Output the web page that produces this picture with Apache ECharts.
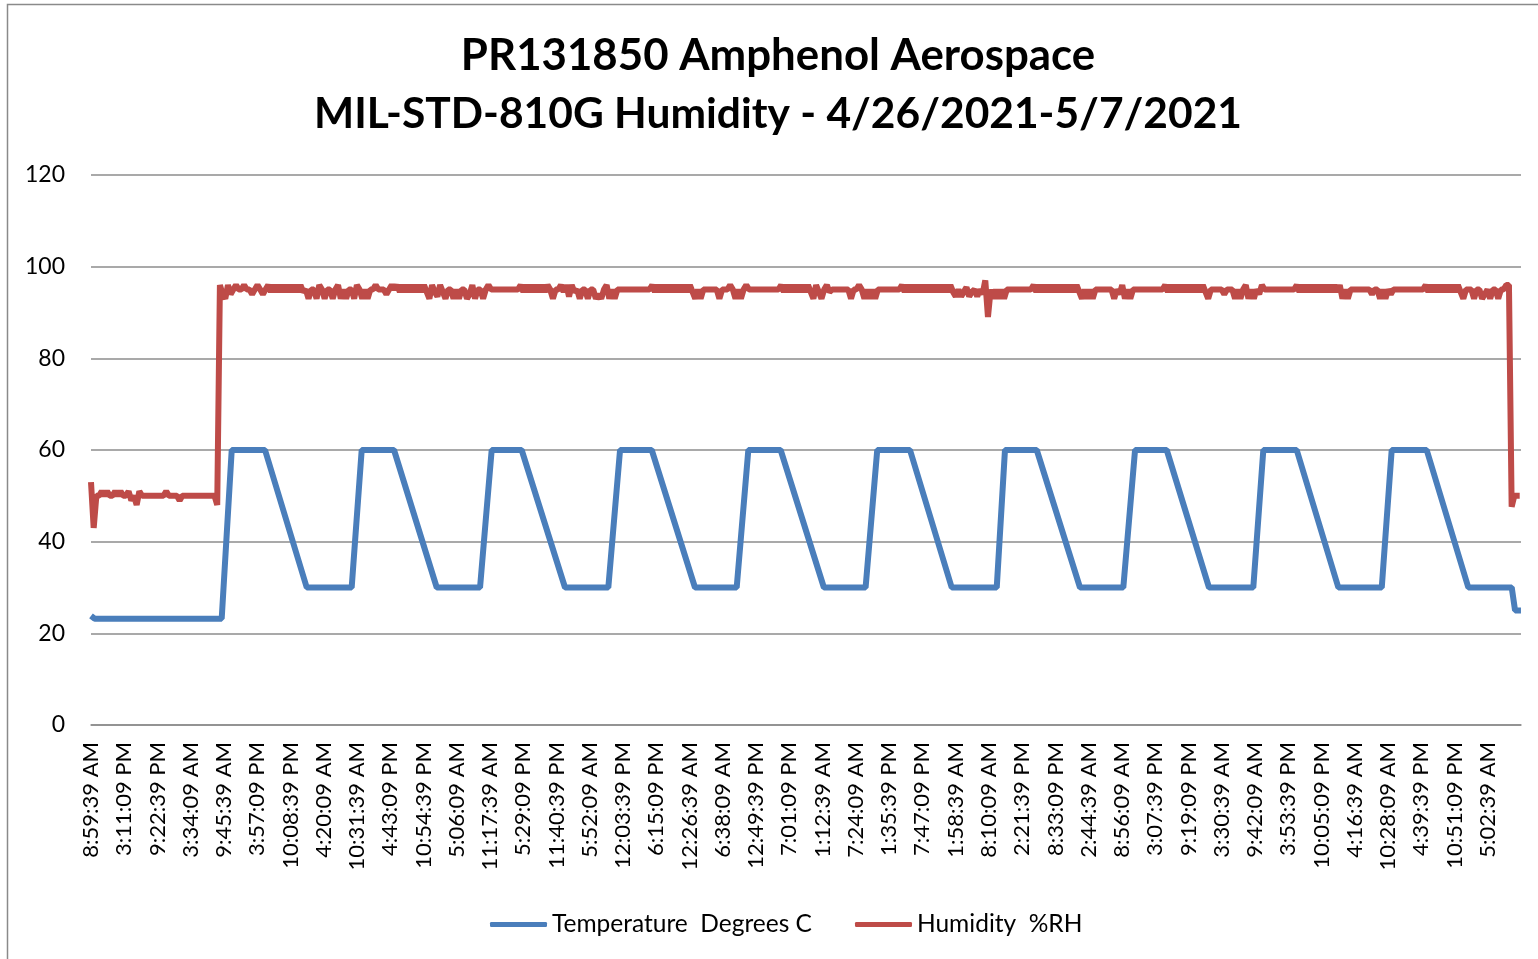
<!DOCTYPE html>
<html>
<head>
<meta charset="utf-8">
<script src="https://cdn.jsdelivr.net/npm/echarts@6/dist/echarts.min.js"></script>
<style>
  html, body { margin: 0; padding: 0; background: #ffffff; }
  #chart { width: 1538px; height: 959px; }
</style>
</head>
<body>
<div id="chart"></div>
<script>
// ---- data ----
const titleLines = ['PR131850 Amphenol Aerospace', 'MIL-STD-810G Humidity - 4/26/2021-5/7/2021'];
const seriesNames = ['Temperature  Degrees C', 'Humidity  %RH'];

// category tick labels, one every 6h11m30s (371.5 minutes)
const tickLabels = [
  '8:59:39 AM', '3:11:09 PM', '9:22:39 PM', '3:34:09 AM', '9:45:39 AM', '3:57:09 PM',
  '10:08:39 PM', '4:20:09 AM', '10:31:39 AM', '4:43:09 PM', '10:54:39 PM', '5:06:09 AM',
  '11:17:39 AM', '5:29:09 PM', '11:40:39 PM', '5:52:09 AM', '12:03:39 PM', '6:15:09 PM',
  '12:26:39 AM', '6:38:09 AM', '12:49:39 PM', '7:01:09 PM', '1:12:39 AM', '7:24:09 AM',
  '1:35:39 PM', '7:47:09 PM', '1:58:39 AM', '8:10:09 AM', '2:21:39 PM', '8:33:09 PM',
  '2:44:39 AM', '8:56:09 AM', '3:07:39 PM', '9:19:09 PM', '3:30:39 AM', '9:42:09 AM',
  '3:53:39 PM', '10:05:09 PM', '4:16:39 AM', '10:28:09 AM', '4:39:39 PM', '10:51:09 PM',
  '5:02:39 AM'
];
const labelStepMinutes = 371.5;      // elapsed minutes between two tick labels
const axisEndMinutes = 15974.5;      // elapsed minutes at the right end of the axis

// Temperature (deg C): [elapsed minutes, value] at each change of slope
const temperature = [
  [0, 23.8], [40, 23.2], [1460, 23.2],
  [1572, 60], [1944, 60], [2410, 30], [2912, 30],
  [3024, 60], [3385, 60], [3862, 30], [4346, 30],
  [4476, 60], [4811, 60], [5295, 30], [5779, 30],
  [5910, 60], [6264, 60], [6747, 30], [7213, 30],
  [7343, 60], [7704, 60], [8187, 30], [8653, 30],
  [8783, 60], [9149, 60], [9615, 30], [10118, 30],
  [10210, 60], [10565, 60], [11048, 30], [11532, 30],
  [11663, 60], [12017, 60], [12489, 30], [12984, 30],
  [13096, 60], [13469, 60], [13934, 30], [14419, 30],
  [14530, 60], [14921, 60], [15386, 30], [15871, 30],
  [15908, 25], [15974, 25]
];

// Humidity (%RH): one reading every 30 minutes from the first label
const humidityStepMinutes = 30;
const humidity = [
  53,43,50,50,51,50,51,50,50,51,
  50,51,50,50,51,49,50,48,51,50,
  50,50,50,50,50,50,50,50,51,50,
  50,50,50,49,50,50,50,50,50,50,
  50,50,50,50,50,50,50,48,96,94,
  93,96,94,95,96,95,95,96,95,95,
  94,95,96,95,94,95,96,94.5,96,94.5,
  96,94.5,96,94.5,96,94.5,96,94.5,96,94.5,
  95,93,95,95,93,96,95,93,95,95,
  93,95,96,93,95,93,95,95,93,96,
  95,93,95,93,95,95,96,95,95,95,
  94,95,96,95,96,94.5,96,94.5,96,94.5,
  96,94.5,96,94.5,96,94.5,93,96,94.5,93.5,
  96,94.5,93,95,95,93,95,93,95,95,
  93,94,96,93,95,95,93,95,96,95,
  95,95,95,95,95,95,95,95,95,95,
  96,94.5,96,94.5,96,94.5,96,94.5,96,94.5,
  96,95,93,95,95,96,94.5,96,93.5,96,
  94.5,95,93,95,95,93,95,95,93,94,
  93,95,96,93,95,93,95,95,95,95,
  95,95,95,95,95,95,95,95,95,96,
  94.5,96,94.5,96,94.5,96,94.5,96,94.5,96,
  94.5,96,94.5,96,94.5,93,95,93,95,95,
  95,95,95,95,93,95,95,95,96,95,
  93,95,93,95,96,95,95,95,95,95,
  95,95,95,95,95,95,95,96,94.5,96,
  94.5,96,94.5,96,94.5,96,94.5,96,94.5,93,
  96,94.5,93,95,96,94.5,95,95,95,95,
  95,95,95,93,95,95,96,95,93,95,
  93,95,93,95,95,95,95,95,95,95,
  95,95,96,94.5,96,94.5,96,94.5,96,94.5,
  96,94.5,96,94.5,96,94.5,96,94.5,96,94.5,
  96,94.5,93.5,95,93.5,94.5,95.5,93.5,94.5,95,
  93.5,95,94,97,89,95,93,95,93,95,
  93,95,95,95,95,95,95,95,95,95,
  95,96,94.5,96,94.5,96,94.5,96,94.5,96,
  94.5,96,94.5,96,94.5,96,94.5,96,94.5,93,
  95,93,95,93,95,95,95,95,95,95,
  95,93,95,94,96,93,95,93,95,95,
  95,95,95,95,95,95,95,95,95,95,
  96,94.5,96,94.5,96,94.5,96,94.5,96,94.5,
  96,94.5,96,94.5,96,94.5,93,95,95,95,
  95,95,94,95,95,95,93,95,93,95,
  96,93,95,93,95,94,96,95,95,95,
  95,95,95,95,95,95,95,95,95,96,
  94.5,96,94.5,96,94.5,96,94.5,96,94.5,96,
  94.5,96,94.5,96,94.5,96,93,95,93,95,
  95,95,95,95,95,95,95,94,95,95,
  93,95,93,95,94,95,95,95,95,95,
  95,95,95,95,95,95,95,96,94.5,96,
  94.5,96,94.5,96,94.5,96,94.5,96,94.5,96,
  94.5,93,95,95,95,93,95,95,93,94,
  95,93,95,95,93,95,95,96,96,47.6,
  50,50,50
];

// ---- chart ----
const FONT = 'Lato';
const BLUE = '#4A7EBB';
const RED = '#BE4B48';
const GRID_GRAY = '#8c8c8c';
const temperatureData = temperature.map(p => [p[0], p[1]]);
const humidityData = humidity.map((v, i) => [i * humidityStepMinutes, v]);

const chart = echarts.init(document.getElementById('chart'), null, { renderer: 'canvas' });
chart.setOption({
  animation: false,
  backgroundColor: '#ffffff',
  textStyle: { fontFamily: FONT },
  graphic: [{
    type: 'rect', silent: true,
    shape: { x: 7.5, y: 4.5, width: 1545, height: 970 },
    style: { fill: 'none', stroke: '#8a8a8a', lineWidth: 1.5 }
  }],
  title: {
    text: '{a|' + titleLines[0] + '}\n{b|' + titleLines[1] + '}',
    left: 778,
    textAlign: 'center',
    top: 26,
    padding: 0,
    textStyle: {
      fontFamily: FONT, fontWeight: 'bold', color: '#000',
      rich: {
        a: { fontFamily: FONT, fontWeight: 'bold', fontSize: 43.8, lineHeight: 59, color: '#000' },
        b: { fontFamily: FONT, fontWeight: 'bold', fontSize: 42.5, lineHeight: 59, color: '#000' }
      }
    }
  },
  legend: {
    data: seriesNames,
    icon: 'roundRect',
    left: 490,
    top: 912,
    padding: 0,
    itemWidth: 57,
    itemHeight: 5,
    itemGap: 43,
    textStyle: { fontFamily: FONT, fontSize: 24.5, color: '#000' }
  },
  grid: { left: 91, right: 17, top: 175, bottom: 234 },
  xAxis: {
    type: 'value',
    min: 0,
    max: axisEndMinutes,
    interval: labelStepMinutes,
    axisLine: { show: true, lineStyle: { color: GRID_GRAY, width: 1.5 } },
    axisTick: { show: false },
    splitLine: { show: false },
    axisLabel: {
      rotate: 90,
      margin: 17,
      fontSize: 22,
      fontFamily: FONT,
      color: '#000',
      formatter: function (v) {
        const k = Math.round(v / labelStepMinutes);
        return tickLabels[k] !== undefined ? tickLabels[k] : '';
      }
    }
  },
  yAxis: {
    type: 'value',
    min: 0,
    max: 120,
    interval: 20,
    axisLine: { show: false },
    axisTick: { show: false },
    splitLine: { show: true, lineStyle: { color: GRID_GRAY, width: 1.5 } },
    axisLabel: { margin: 26, fontSize: 23, fontFamily: FONT, color: '#000' }
  },
  series: [
    {
      name: seriesNames[0],
      type: 'line',
      data: temperatureData,
      showSymbol: false,
      symbol: 'none',
      itemStyle: { color: BLUE },
      lineStyle: { color: BLUE, width: 6 },
      silent: true
    },
    {
      name: seriesNames[1],
      type: 'line',
      data: humidityData,
      showSymbol: false,
      symbol: 'none',
      itemStyle: { color: RED },
      lineStyle: { color: RED, width: 6 },
      silent: true
    }
  ]
});
</script>
</body>
</html>
